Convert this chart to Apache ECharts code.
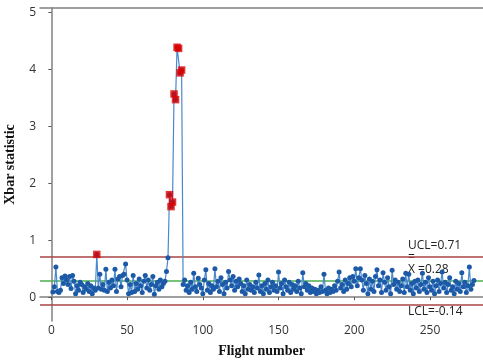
<!DOCTYPE html>
<html><head><meta charset="utf-8">
<script src="https://cdn.jsdelivr.net/npm/echarts@6/dist/echarts.min.js"></script>
<style>html,body{margin:0;padding:0;background:#fff}#c{width:483px;height:362px}</style>
</head><body><div id="c"></div>
<script>
// Xbar statistic per flight, flights 1..279
const xbar = [
  0.09, 0.18, 0.53, 0.10, 0.08, 0.12, 0.34, 0.24, 0.37, 0.30,
  0.22, 0.36, 0.15, 0.38, 0.28, 0.06, 0.20, 0.12, 0.26, 0.22,
  0.08, 0.18, 0.14, 0.24, 0.10, 0.20, 0.06, 0.16, 0.12, 0.75,
  0.16, 0.40, 0.14, 0.22, 0.12, 0.49, 0.10, 0.26, 0.16, 0.30,
  0.20, 0.49, 0.10, 0.32, 0.36, 0.18, 0.38, 0.40, 0.58, 0.30,
  0.06, 0.22, 0.08, 0.38, 0.10, 0.24, 0.14, 0.32, 0.20, 0.08,
  0.28, 0.38, 0.16, 0.30, 0.12, 0.22, 0.36, 0.05, 0.20, 0.26,
  0.14, 0.30, 0.18, 0.24, 0.28, 0.45,
  0.69, 1.80, 1.59, 1.67, 3.57, 3.47, 4.39, 4.37, 3.94, 3.99, 0.22,
  0.30, 0.12, 0.20, 0.08, 0.26, 0.14, 0.42, 0.18, 0.10, 0.33, 0.22, 0.16, 0.06,
  0.30, 0.48, 0.12, 0.24, 0.08, 0.20, 0.14, 0.50, 0.18, 0.28,
  0.10, 0.34, 0.22, 0.06, 0.26, 0.16, 0.45, 0.30, 0.20, 0.36,
  0.12, 0.28, 0.18, 0.32, 0.24, 0.10, 0.20, 0.06, 0.30, 0.14,
  0.22, 0.12, 0.18, 0.08, 0.26, 0.16, 0.39, 0.10, 0.20, 0.06,
  0.24, 0.14, 0.30, 0.08, 0.18, 0.26, 0.12, 0.20, 0.10, 0.44,
  0.16, 0.24, 0.06, 0.30, 0.18, 0.12, 0.26, 0.08, 0.22, 0.14,
  0.20, 0.10, 0.28, 0.16, 0.06, 0.43, 0.18, 0.24, 0.12, 0.20,
  0.08, 0.16, 0.10, 0.14, 0.06, 0.12, 0.08, 0.18, 0.10, 0.40,
  0.12, 0.06, 0.16, 0.08, 0.14, 0.10, 0.20, 0.12, 0.28, 0.44,
  0.16, 0.22, 0.10, 0.30, 0.14, 0.24, 0.34, 0.18, 0.36, 0.28,
  0.50, 0.20, 0.34, 0.50, 0.30, 0.12, 0.38, 0.24, 0.06, 0.32,
  0.14, 0.28, 0.10, 0.36, 0.48, 0.20, 0.30, 0.08, 0.43, 0.26,
  0.12, 0.34, 0.18, 0.06, 0.47, 0.22, 0.30, 0.14, 0.26, 0.10,
  0.20, 0.32, 0.08, 0.42, 0.18, 0.40, 0.12, 0.24, 0.06, 0.28,
  0.16, 0.30, 0.10, 0.22, 0.42, 0.14, 0.26, 0.08, 0.34, 0.18,
  0.12, 0.28, 0.06, 0.20, 0.30, 0.10, 0.24, 0.44, 0.16, 0.26,
  0.08, 0.22, 0.34, 0.12, 0.18, 0.06, 0.28, 0.14, 0.24, 0.10,
  0.43, 0.18, 0.26, 0.08, 0.20, 0.53, 0.14, 0.22, 0.29
];
const firstFlight = 1;
const UCL = 0.71, CL = 0.28, LCL = -0.14;
const xTicks = [0, 50, 100, 150, 200, 250];
const yTicks = [0, 1, 2, 3, 4, 5];
const labelUCL = 'UCL=0.71';
const labelBar = '=';
const labelCL = 'X =0.28';
const labelLCL = 'LCL=-0.14';
const xName = 'Flight number';
const yName = 'Xbar statistic';

const pts = xbar.map((v, i) => [i + firstFlight, v]);
const ooc = pts.filter(p => p[1] > UCL || p[1] < LCL);

const chart = echarts.init(document.getElementById('c'));
const tickFont = {fontFamily: 'Open Sans', fontSize: 12, color: '#333'};
const axLine = {show: true, lineStyle: {color: '#808080', width: 1.5}};
chart.setOption({
  animation: false,
  grid: {left: 40, top: 8, right: 0, bottom: 41, show: false,
         containLabel: false, outerBoundsMode: 'none'},
  xAxis: [{
    type: 'value', min: -7.5, max: 285,
    name: xName, nameLocation: 'middle', nameGap: 23,
    nameTextStyle: {fontFamily: 'Liberation Serif', fontWeight: 'bold', fontSize: 14, color: '#111'},
    axisLine: axLine,
    axisTick: {show: true, length: 3, customValues: xTicks, lineStyle: {color: '#555'}},
    axisLabel: Object.assign({customValues: xTicks, margin: 4}, tickFont),
    splitLine: {show: false}
  }, {
    type: 'value', position: 'top', min: -7.5, max: 285,
    axisLine: axLine, axisTick: {show: false}, axisLabel: {show: false}, splitLine: {show: false}
  }],
  yAxis: {
    type: 'value', min: -0.42, max: 5.08,
    name: yName, nameLocation: 'middle', nameGap: 23,
    nameTextStyle: {fontFamily: 'Liberation Serif', fontWeight: 'bold', fontSize: 14, color: '#111'},
    axisLine: axLine,
    axisTick: {show: true, length: 3, customValues: yTicks, lineStyle: {color: '#555'}},
    axisLabel: Object.assign({customValues: yTicks, margin: 4}, tickFont),
    splitLine: {show: false}
  },
  series: [
    {
      type: 'line', data: pts, symbol: 'circle', symbolSize: 5,
      lineStyle: {color: '#4a88cc', width: 1.2},
      itemStyle: {color: '#1c5aa8'},
      z: 3,
      markLine: {
        silent: true, symbol: 'none', label: {show: false},
        data: [
          {yAxis: UCL, lineStyle: {color: '#a84444', width: 1.5, type: 'solid'}},
          {yAxis: CL, lineStyle: {color: '#4cae4c', width: 1.5, type: 'solid'}},
          {yAxis: LCL, lineStyle: {color: '#a84444', width: 1.5, type: 'solid'}}
        ],
        z: 2
      }
    },
    {
      type: 'scatter', data: ooc, symbol: 'rect', symbolSize: 7.5,
      itemStyle: {color: '#dd0000'}, z: 5
    }
  ]
});

const lx = 235.5;
const pU = chart.convertToPixel({gridIndex: 0}, [lx, UCL]);
const pC = chart.convertToPixel({gridIndex: 0}, [lx, CL]);
const pL = chart.convertToPixel({gridIndex: 0}, [lx, LCL]);
const lf = {fontFamily: 'Open Sans', fontSize: 12, fill: '#222'};
chart.setOption({
  graphic: [
    {type: 'text', x: pU[0], y: pU[1] - 5, style: Object.assign({text: labelUCL, verticalAlign: 'bottom'}, lf)},
    {type: 'text', x: pC[0], y: pC[1] - 18, style: Object.assign({text: labelBar, verticalAlign: 'bottom'}, lf)},
    {type: 'text', x: pC[0], y: pC[1] - 6, style: Object.assign({text: labelCL, verticalAlign: 'bottom'}, lf)},
    {type: 'text', x: pL[0], y: pL[1] + 1, style: Object.assign({text: labelLCL, verticalAlign: 'top'}, lf)}
  ]
});
</script>
</body></html>
